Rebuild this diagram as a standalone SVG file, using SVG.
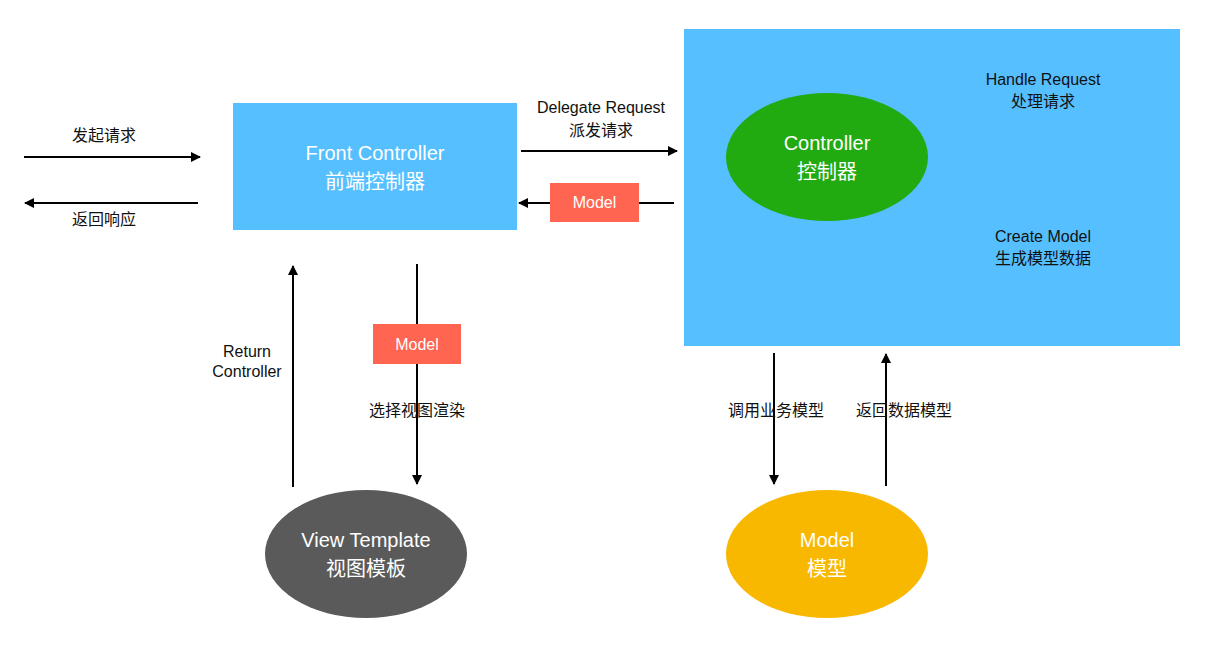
<svg xmlns="http://www.w3.org/2000/svg" width="1227" height="646" viewBox="0 0 1227 646">
<style>
text{font-family:"Liberation Sans","Noto Sans CJK SC",sans-serif;text-anchor:middle}
.l{font-size:16px;fill:#111}
.w{font-size:20px;fill:#fff}
.m{font-size:16px;fill:#fff}
.c line{stroke:#000;stroke-width:2;marker-end:url(#a)}
</style>
<defs><marker id="a" viewBox="0 0 10 10" refX="9" refY="5" markerWidth="5" markerHeight="5" orient="auto"><path d="M0,0L10,5L0,10z" fill="#000"/></marker></defs>
<rect width="1227" height="646" fill="#fff"/>
<g id="controller-area"><rect x="684" y="29" width="496" height="317" fill="#56BFFF"/>
<text class="l" x="1043" y="85">Handle Request</text><text class="l" x="1043" y="107">处理请求</text>
<text class="l" x="1043" y="242">Create Model</text><text class="l" x="1043" y="264">生成模型数据</text></g>
<g id="front-controller"><rect x="233" y="103" width="284" height="127" fill="#56BFFF"/>
<text class="w" x="375" y="160">Front Controller</text><text class="w" x="375" y="189">前端控制器</text></g>
<g id="controller"><ellipse cx="827" cy="157" rx="101" ry="64" fill="#22AA11"/>
<text class="w" x="827" y="150">Controller</text><text class="w" x="827" y="179">控制器</text></g>
<g id="view-template"><ellipse cx="366" cy="554" rx="101" ry="64" fill="#5A5A5A"/>
<text class="w" x="366" y="547">View Template</text><text class="w" x="366" y="576">视图模板</text></g>
<g id="model"><ellipse cx="827" cy="554" rx="101" ry="64" fill="#F9B800"/>
<text class="w" x="827" y="547">Model</text><text class="w" x="827" y="576">模型</text></g>
<g class="c" id="connectors">
<line x1="24" y1="157" x2="200" y2="157"/>
<line x1="198" y1="203" x2="25" y2="203"/>
<line x1="521" y1="151" x2="677" y2="151"/>
<line x1="674" y1="203" x2="519" y2="203"/>
<line x1="293" y1="487" x2="293" y2="266"/>
<line x1="417" y1="264" x2="417" y2="484"/>
<line x1="774" y1="353" x2="774" y2="484"/>
<line x1="886" y1="486" x2="886" y2="354"/>
</g>
<g id="model-tag-1"><rect x="550" y="183" width="89" height="39" fill="#FF6550"/><text class="m" x="594.500" y="208">Model</text></g>
<g id="model-tag-2"><rect x="373" y="324" width="88" height="40" fill="#FF6550"/><text class="m" x="417" y="350">Model</text></g>
<g id="labels">
<text class="l" x="104" y="141">发起请求</text>
<text class="l" x="104" y="225">返回响应</text>
<text class="l" x="601" y="113">Delegate Request</text>
<text class="l" x="601" y="136">派发请求</text>
<text class="l" x="247" y="357">Return</text>
<text class="l" x="247" y="377">Controller</text>
<text class="l" x="417" y="416">选择视图渲染</text>
<text class="l" x="776" y="416">调用业务模型</text>
<text class="l" x="904" y="416">返回数据模型</text>
</g>
</svg>
